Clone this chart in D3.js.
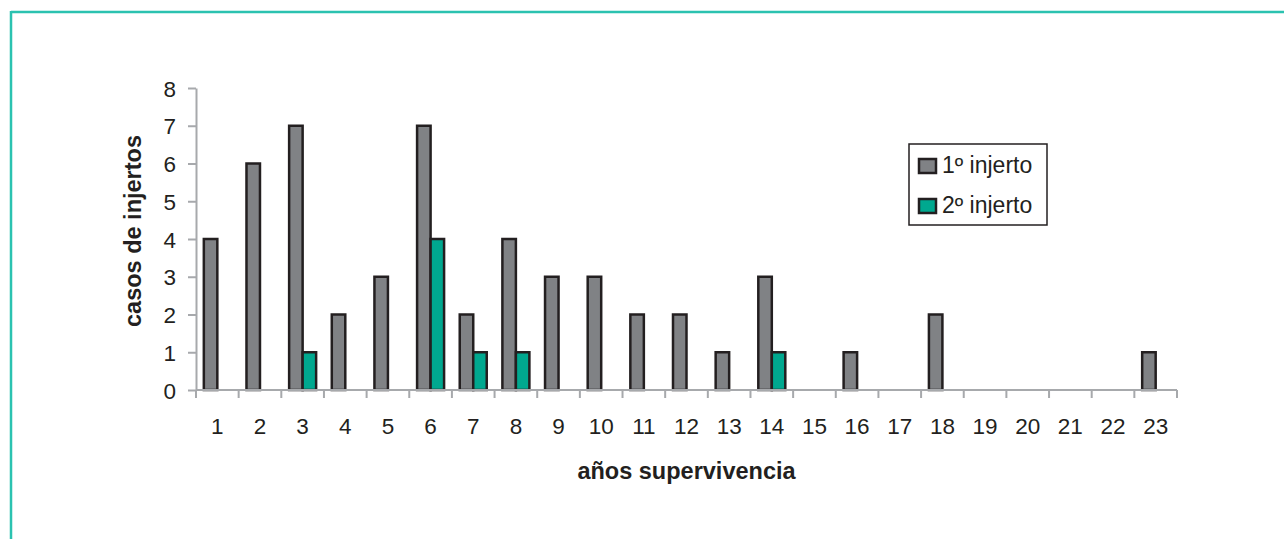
<!DOCTYPE html>
<html>
<head>
	<meta charset="utf-8">
	<script src="https://cdn.jsdelivr.net/npm/d3@7"></script>
	<style>
		body { margin: 0; background: #fff; }
		text { font-family: "Liberation Sans", Arial, sans-serif; fill: #231f20; }
		.axis path, .axis line { stroke: #a7a9ac; stroke-width: 2; }
		.title { font-weight: bold; font-size: 23.5px; }
	</style>
</head>
<body>
	<svg></svg>
	<script>
		// years of survival
		var years = ["1", "2", "3", "4", "5", "6", "7", "8", "9", "10", "11", "12",
			"13", "14", "15", "16", "17", "18", "19", "20", "21", "22", "23"];
		// 1st graft
		var primero = [4, 6, 7, 2, 3, 7, 2, 4, 3, 3, 2, 2, 1, 3, 0, 1, 0, 2, 0, 0, 0, 0, 1];
		// 2nd graft
		var segundo = [0, 0, 1, 0, 0, 4, 1, 1, 0, 0, 0, 0, 0, 1, 0, 0, 0, 0, 0, 0, 0, 0, 0];
		var seriesNames = ["1º injerto", "2º injerto"];
		var yTicks = [0, 1, 2, 3, 4, 5, 6, 7, 8];

		var colors = ["#808285", "#00a88f"];
		var width = 1284, height = 539;
		var margins = { left: 196, right: 107, top: 88, bottom: 149 };
		var labelSize = "22.5px";

		var svg = d3.select("svg")
			.attr("width", width)
			.attr("height", height);

		// teal frame (top and left edges visible)
		svg.append("line").attr("x1", 11).attr("x2", width).attr("y1", 12).attr("y2", 12)
			.attr("stroke", "#2bc2b0").attr("stroke-width", 2.5);
		svg.append("line").attr("x1", 11).attr("x2", 11).attr("y1", 11).attr("y2", height)
			.attr("stroke", "#2bc2b0").attr("stroke-width", 2.5);

		var x0 = d3.scaleBand()
			.domain(years)
			.range([margins.left, width - margins.right])
			.padding(0);
		var x1 = d3.scaleBand()
			.domain([0, 1])
			.range([0, x0.bandwidth()])
			.paddingInner(0)
			.paddingOuter(0.58);
		var y = d3.scaleLinear()
			.domain([0, 8])
			.range([height - margins.bottom, margins.top]);

		// bars
		var data = years.map((yr, i) => ({ year: yr, values: [primero[i], segundo[i]] }));
		var groups = svg.selectAll(".grp")
			.data(data)
			.enter().append("g")
			.attr("class", "grp")
			.attr("transform", d => "translate(" + x0(d.year) + ",0)");
		groups.selectAll("rect")
			.data(d => d.values.map((v, k) => ({ k: k, v: v })).filter(e => e.v > 0))
			.enter().append("rect")
			.attr("x", d => x1(d.k))
			.attr("y", d => y(d.v))
			.attr("width", x1.bandwidth())
			.attr("height", d => y(0) - y(d.v))
			.attr("fill", d => colors[d.k])
			.attr("stroke", "#231f20")
			.attr("stroke-width", 2.5);

		// y axis
		svg.append("g")
			.attr("class", "axis")
			.attr("transform", "translate(" + margins.left + ",0)")
			.call(d3.axisLeft(y).tickValues(yTicks).tickSize(8).tickPadding(12).tickSizeOuter(0))
			.call(g => g.selectAll("text")
				.attr("dy", "0.36em")
				.style("font-size", labelSize)
				.style("font-family", "'Liberation Sans', Arial, sans-serif"));

		// x axis: ticks at band edges, labels at band centres
		var xAxis = svg.append("g")
			.attr("class", "axis")
			.attr("transform", "translate(0," + y(0) + ")");
		xAxis.append("line")
			.attr("x1", x0.range()[0]).attr("x2", x0.range()[1]);
		xAxis.selectAll(".edge")
			.data(years.concat(["end"]))
			.enter().append("line")
			.attr("class", "edge")
			.attr("x1", (d, i) => x0.range()[0] + i * x0.step())
			.attr("x2", (d, i) => x0.range()[0] + i * x0.step())
			.attr("y1", 0).attr("y2", 8);
		xAxis.selectAll(".lbl")
			.data(years)
			.enter().append("text")
			.attr("class", "lbl")
			.attr("x", d => x0(d) + x0.bandwidth() / 2)
			.attr("y", 44)
			.attr("text-anchor", "middle")
			.style("font-size", labelSize)
			.text(d => d);

		// axis titles
		svg.append("text")
			.attr("class", "title")
			.attr("x", (margins.left + width - margins.right) / 2)
			.attr("y", 479)
			.attr("text-anchor", "middle")
			.text("años supervivencia");
		svg.append("text")
			.attr("class", "title")
			.attr("transform", "translate(141,231) rotate(-90)")
			.attr("text-anchor", "middle")
			.text("casos de injertos");

		// legend
		var legend = svg.append("g").attr("transform", "translate(909,144)");
		legend.append("rect")
			.attr("width", 138).attr("height", 81)
			.attr("fill", "#fff").attr("stroke", "#231f20").attr("stroke-width", 1.5);
		seriesNames.forEach((name, k) => {
			legend.append("rect")
				.attr("x", 10).attr("y", 15 + k * 40)
				.attr("width", 17).attr("height", 14)
				.attr("fill", colors[k]).attr("stroke", "#231f20").attr("stroke-width", 2.5);
			legend.append("text")
				.attr("x", 33).attr("y", 29 + k * 40)
				.style("font-size", "23px")
				.text(name);
		});
	</script>
</body>
</html>
